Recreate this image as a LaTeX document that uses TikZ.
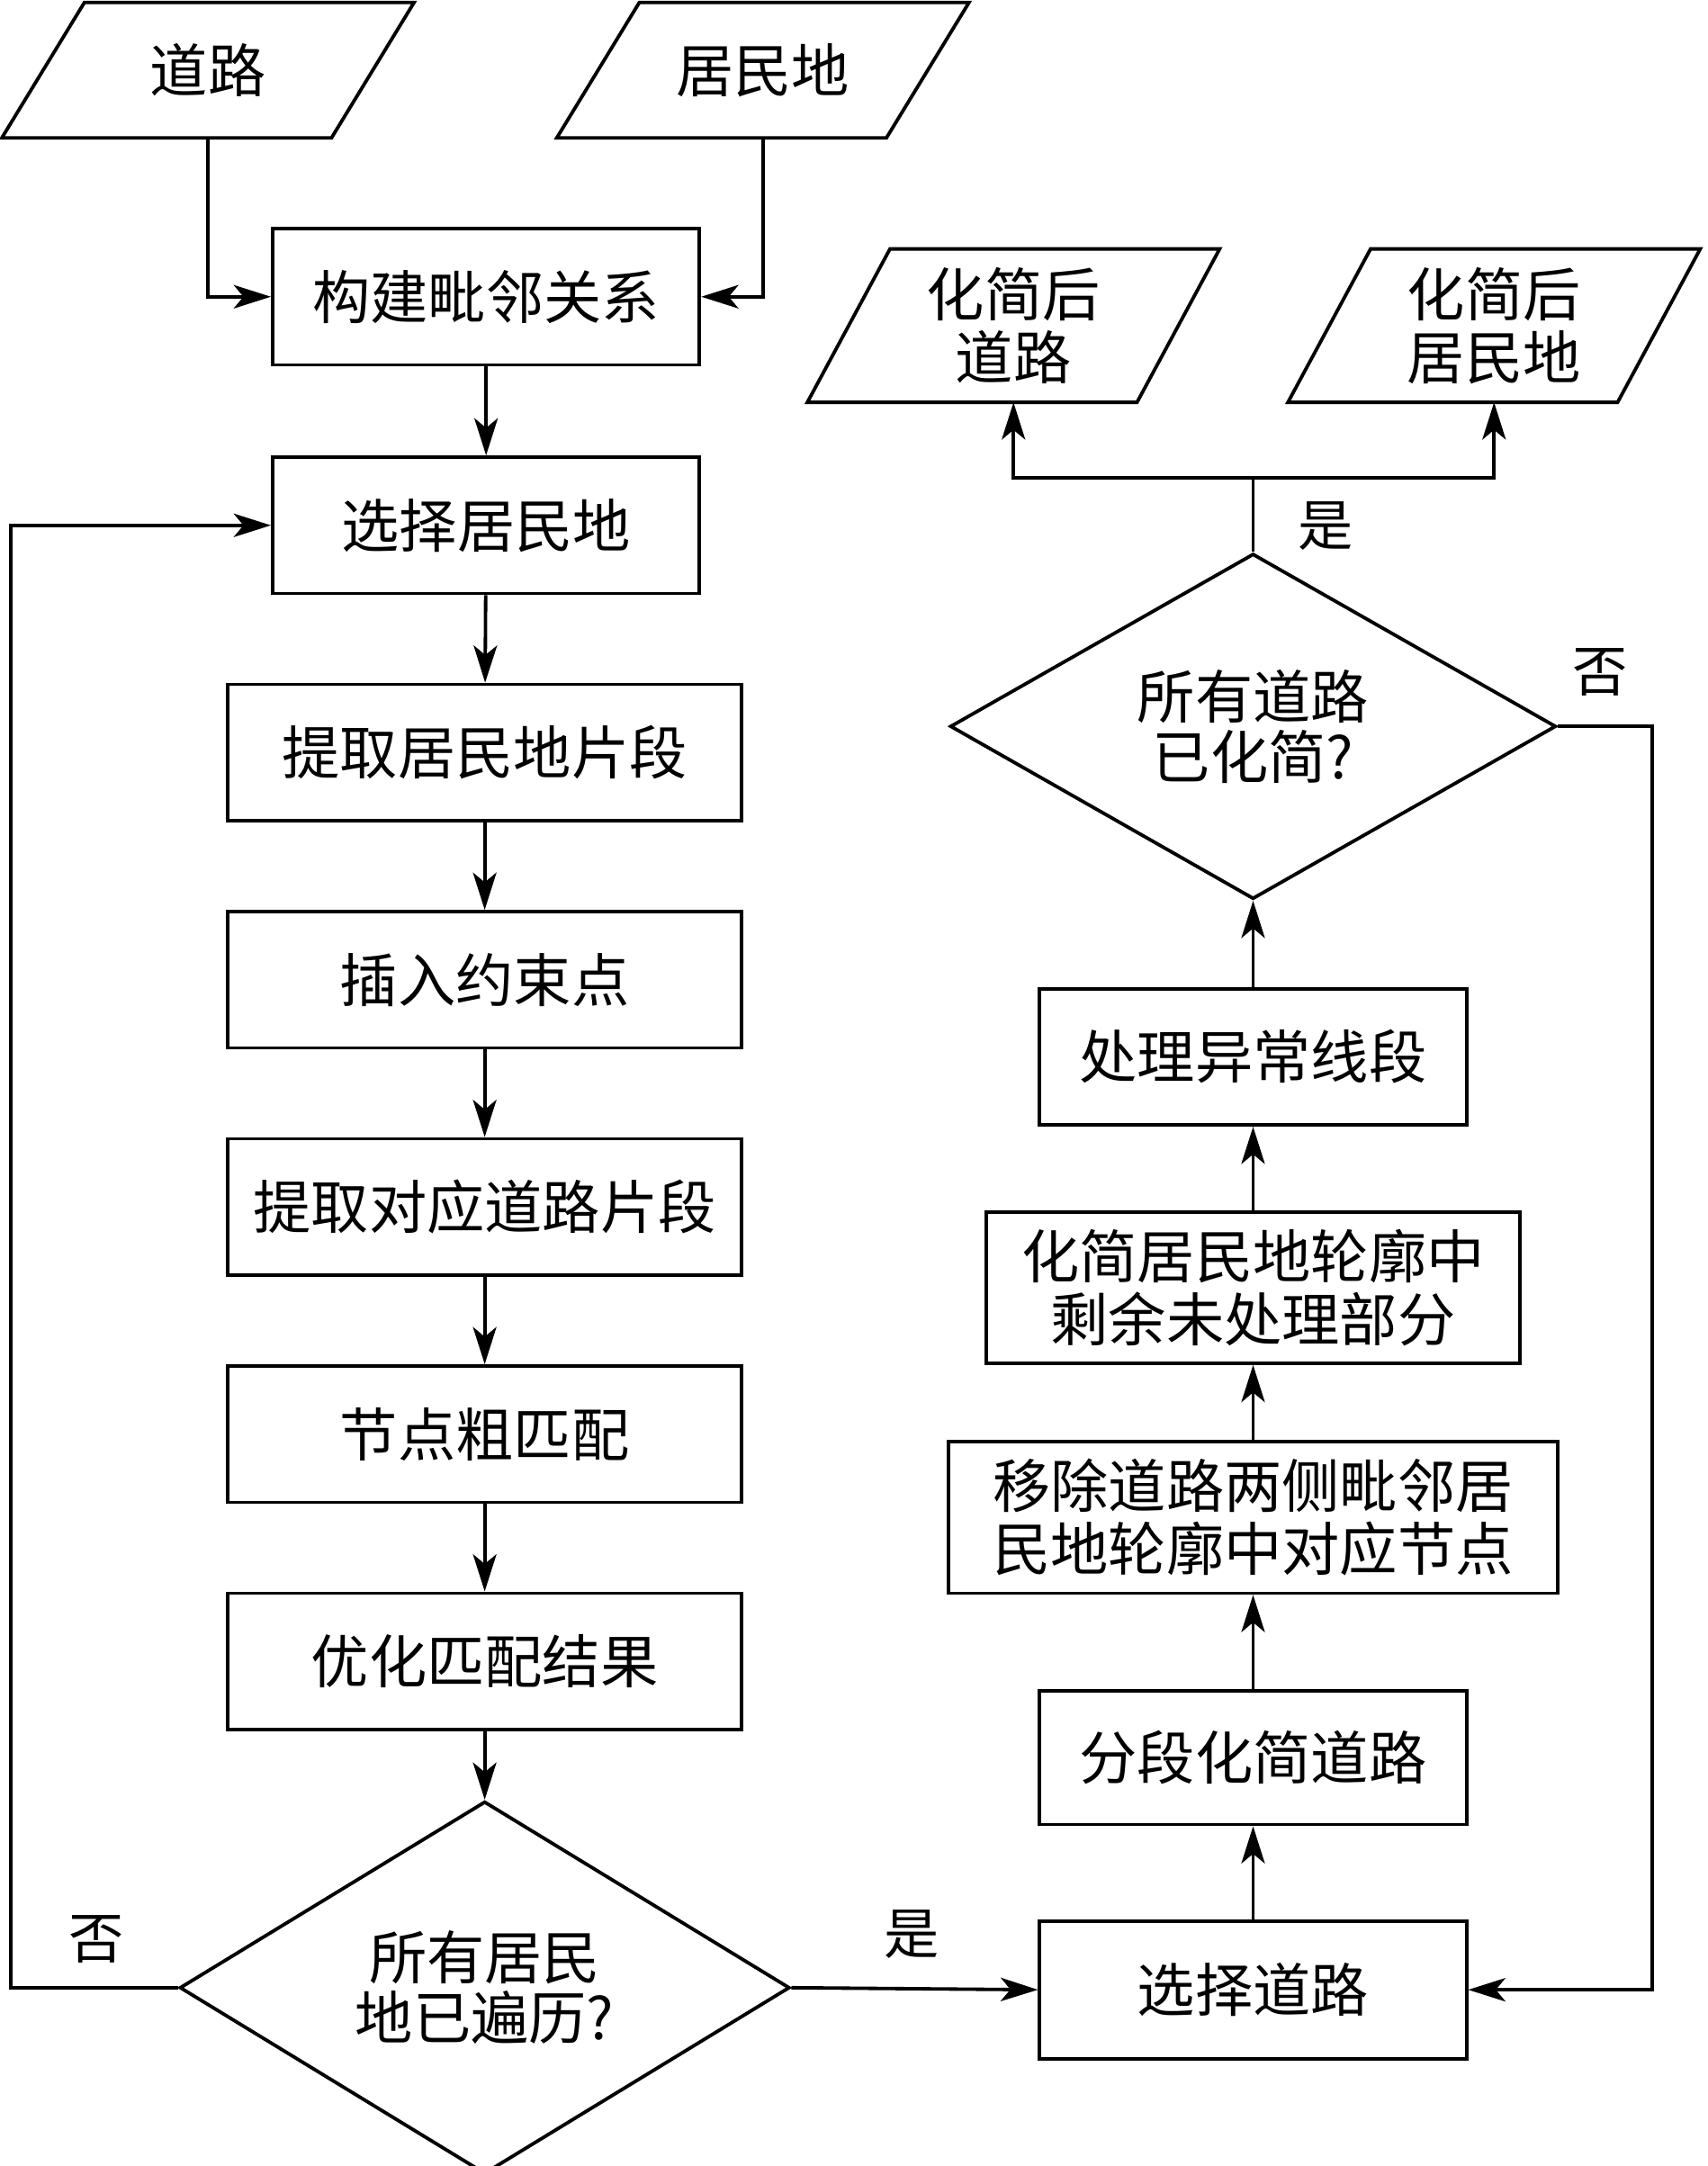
\documentclass[tikz,border=0pt]{standalone}
\usepackage{fontspec}
\setmainfont{Noto Sans CJK SC}
\usetikzlibrary{arrows.meta,shapes.geometric,calc}
\tikzset{
  box/.style={draw,line width=2.5pt,minimum width=310pt,minimum height=99pt,inner sep=0pt,align=center,font=\fontsize{42}{46}\selectfont},
  iobox/.style={minimum width=239pt,inner sep=0pt,align=center,font=\fontsize{42}{46}\selectfont},
  dec/.style={draw,diamond,line width=2.5pt,inner sep=0pt,align=center,font=\fontsize{42}{44}\selectfont},
  lbl/.style={font=\fontsize{40}{40}\selectfont},
  arr/.style={line width=2.5pt,-{Stealth[length=27pt,width=17pt,inset=7pt]}},
  ln/.style={line width=2.5pt}
}
\newcommand{\paraframe}[2]{%
  \draw[ln,line join=miter] ($(#1.north west)+(#2,0)$) -- ($(#1.north east)+(#2,0)$) -- ($(#1.south east)+(-#2,0)$) -- ($(#1.south west)+(-#2,0)$) -- cycle;}
\begin{document}
\begin{tikzpicture}[x=1pt,y=-1pt]
\useasboundingbox (0,0) rectangle (1240,1573);
% inputs
\node[iobox,minimum height=98pt] (in1) at (151,51) {道路};
\node[iobox,minimum height=98pt] (in2) at (554,51) {居民地};
\paraframe{in1}{30}
\paraframe{in2}{30}
% outputs
\node[iobox,minimum height=111pt] (o1) at (736,236.5) {化简后\\道路};
\node[iobox,minimum height=111pt] (o2) at (1085,236.5) {化简后\\居民地};
\paraframe{o1}{30}
\paraframe{o2}{30}
% left column
\node[box] (b1) at (353,215.5) {构建毗邻关系};
\node[box] (b2) at (353,381.5) {选择居民地};
\node[box,minimum width=373pt] (b3) at (352,546.5) {提取居民地片段};
\node[box,minimum width=373pt] (b4) at (352,711.5) {插入约束点};
\node[box,minimum width=373pt] (b5) at (352,876.5) {提取对应道路片段};
\node[box,minimum width=373pt] (b6) at (352,1041.5) {节点粗匹配};
\node[box,minimum width=373pt] (b7) at (352,1206.5) {优化匹配结果};
\node[dec,minimum width=443pt,minimum height=243pt] (d1) at (352,1443.5) {所有居民\\地已遍历?};
% right column
\node[box,minimum height=100pt] (r1) at (910,1445) {选择道路};
\node[box,minimum height=97pt] (r2) at (910,1276.5) {分段化简道路};
\node[box,minimum width=442pt,minimum height=110pt] (r3) at (910,1102) {移除道路两侧毗邻居\\民地轮廓中对应节点};
\node[box,minimum width=388pt,minimum height=110pt] (r4) at (910,935) {化简居民地轮廓中\\剩余未处理部分};
\node[box] (r5) at (910,767.5) {处理异常线段};
\node[dec,minimum width=440pt,minimum height=241pt] (d2) at (910,527.5) {所有道路\\已化简?};
% labels
\node[lbl] (l1) at (70,1408) {否};
\node[lbl] (l2) at (662,1405) {是};
\node[lbl] (l3) at (963,382) {是};
\node[lbl] (l4) at (1162,488) {否};
% helper coordinates
\coordinate (fl) at (8,0);
\coordinate (fr) at (1200,0);
\coordinate (j) at (910,347);
% connectors
\draw[arr] (in1.south) |- (b1.west);
\draw[arr] (in2.south) |- (b1.east);
\draw[arr] (b1) -- (b2);
\draw[arr] (b2) -- (b3);
\draw[arr] (b3) -- (b4);
\draw[arr] (b4) -- (b5);
\draw[arr] (b5) -- (b6);
\draw[arr] (b6) -- (b7);
\draw[arr] (b7) -- (d1);
\draw[arr] (d1.west) -- (d1.west -| fl) |- (b2.west);
\draw[arr] (d1.east) -- (r1.west);
\draw[arr] (r1) -- (r2);
\draw[arr] (r2) -- (r3);
\draw[arr] (r3) -- (r4);
\draw[arr] (r4) -- (r5);
\draw[arr] (r5) -- (d2);
\draw[arr] (d2.east) -- (d2.east -| fr) |- (r1.east);
\draw[ln] (d2.north) -- (j);
\draw[arr] (j) -| (o1.south);
\draw[arr] (j) -| (o2.south);
\end{tikzpicture}
\end{document}
